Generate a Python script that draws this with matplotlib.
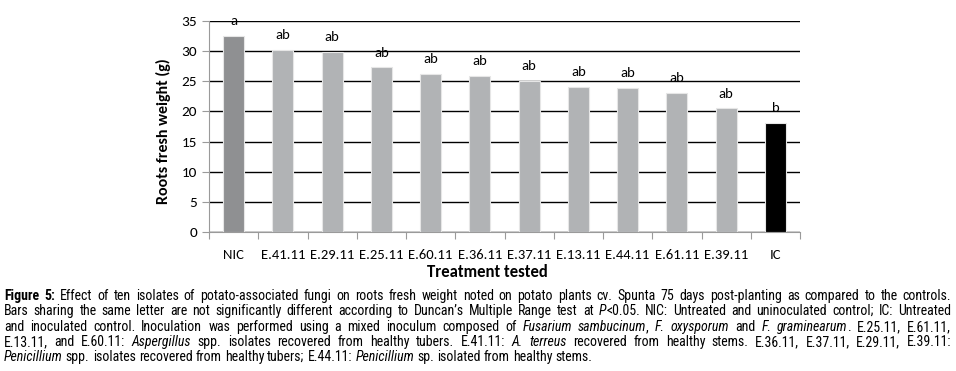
import matplotlib
matplotlib.use("Agg")
import matplotlib.pyplot as plt
from matplotlib import font_manager

treatments = ["NIC", "E.41.11", "E.29.11", "E.25.11", "E.60.11", "E.36.11",
              "E.37.11", "E.13.11", "E.44.11", "E.61.11", "E.39.11", "IC"]
weights = [32.5, 30.2, 29.9, 27.3, 26.2, 25.9, 25.1, 24.1, 23.9, 23.1, 20.5, 18.1]
letters = ["a", "ab", "ab", "ab", "ab", "ab", "ab", "ab", "ab", "ab", "ab", "b"]
colors = ["#8f9092"] + ["#b1b3b5"] * 10 + ["#000000"]

caption = [
    [("Figure 5:", "b"), (" Effect of ten isolates of potato-associated fungi on roots fresh weight noted on potato plants cv. Spunta 75 days post-planting as compared to the controls.", "n")],
    [("Bars sharing the same letter are not significantly different according to Duncan\u2019s Multiple Range test at ", "n"), ("P", "i"), ("<0.05. NIC: Untreated and uninoculated control; IC: Untreated", "n")],
    [("and inoculated control. Inoculation was performed using a mixed inoculum composed of ", "n"), ("Fusarium sambucinum", "i"), (", ", "n"), ("F. oxysporum", "i"), (" and ", "n"), ("F. graminearum", "i"), (". E.25.11, E.61.11,", "n")],
    [("E.13.11, and E.60.11: ", "n"), ("Aspergillus", "i"), (" spp. isolates recovered from healthy tubers. E.41.11: ", "n"), ("A. terreus", "i"), (" recovered from healthy stems. E.36.11, E.37.11, E.29.11, E.39.11:", "n")],
    [("Penicillium", "i"), (" spp. isolates recovered from healthy tubers; E.44.11: ", "n"), ("Penicillium", "i"), (" sp. isolated from healthy stems.", "n")],
]

names = {f.name for f in font_manager.fontManager.ttflist}


def first_font(cands, default):
    for c in cands:
        if c in names:
            return c
    return default


chart_font = first_font(["Carlito", "Open Sans"], "DejaVu Sans")
cap_font = first_font(["Liberation Sans Narrow", "Arial Narrow", "Roboto Condensed",
                       "Archivo Narrow"], "Liberation Sans")
small = chart_font == "Open Sans"

W, H = 956, 371
fig = plt.figure(figsize=(W / 100, H / 100), dpi=100)
ax = fig.add_axes([209 / W, 1 - 232 / H, (800 - 209) / W, (232 - 21) / H])

x = list(range(len(treatments)))
ax.bar(x, weights, width=0.43, color=colors, edgecolor="#e6e6e6", linewidth=0.8, zorder=3)
for xi, v, l in zip(x, weights, letters):
    ax.annotate(l, (xi, v), xytext=(0, 10.5), textcoords="offset points",
                ha="center", va="center", fontsize=9 if small else 10.5, family=chart_font)

ax.set_xlim(-0.5, len(treatments) - 0.5)
ax.set_ylim(0, 35)
ax.set_yticks(range(0, 36, 5))
ax.yaxis.grid(True, color="black", linewidth=1, zorder=0)
ax.set_axisbelow(True)
for s in ["top", "right"]:
    ax.spines[s].set_visible(False)
for s in ["left", "bottom"]:
    ax.spines[s].set_color("#9a9a9a")
ax.set_xticks([i - 0.5 for i in range(len(treatments) + 1)])
ax.set_xticklabels([])
ax.set_xticks(x, minor=True)
ax.set_xticklabels(treatments, minor=True, fontsize=9 if small else 10.5, family=chart_font)
ax.tick_params(axis="x", which="major", length=5, color="#9a9a9a")
ax.tick_params(axis="x", which="minor", length=0, pad=12)
ax.tick_params(axis="y", length=5, color="#9a9a9a", labelsize=10 if small else 11)
for t in ax.get_yticklabels():
    t.set_family(chart_font)

fig.text(487 / W, 1 - 272 / H, "Treatment tested", ha="center", va="center",
         fontsize=10.5 if small else 12, fontweight="bold", family=chart_font)
fig.text(163 / W, 1 - 131 / H, "Roots fresh weight (g)", ha="center", va="center",
         rotation=90, fontsize=10 if small else 11.5, fontweight="bold", family=chart_font)

# caption, justified word by word
renderer = fig.canvas.get_renderer()
left, right = 4, 951
line_y = [300, 315, 331, 346, 361]


def style_kw(st):
    return dict(fontweight="bold" if st == "b" else "normal",
                fontstyle="italic" if st == "i" else "normal")


def width_of(txt, st, size):
    t = fig.text(0, 0, txt, fontsize=size, family=cap_font, **style_kw(st))
    w = t.get_window_extent(renderer).width
    t.remove()
    return w


def advance_of(txt, st, size):
    # italic boxes include the slant overhang; measure the advance instead
    if st == "i":
        return width_of(txt + "l", st, size) - width_of("l", st, size)
    return width_of(txt, st, size)


# largest size (up to 10 pt) at which every full line fits
cap_size = 10
for runs in caption[:-1]:
    nat = sum(width_of(txt, st, 10) for txt, st in runs)
    cap_size = min(cap_size, 10 * (right - left) / nat * 0.99)

space = width_of("a a", "n", cap_size) - 2 * width_of("a", "n", cap_size)

for li, runs in enumerate(caption):
    words = []
    cur = []
    for txt, st in runs:
        parts = txt.split(" ")
        for pi, p in enumerate(parts):
            if pi > 0:
                if cur:
                    words.append(cur)
                cur = []
            if p:
                cur.append((p, st))
    if cur:
        words.append(cur)
    widths = [[advance_of(p, st, cap_size) for p, st in w] for w in words]
    total = sum(sum(ws) for ws in widths)
    if li < len(caption) - 1 and len(words) > 1:
        gap = (right - left - total) / (len(words) - 1)
    else:
        gap = space
    xp = left
    for w, ws in zip(words, widths):
        for (p, st), pw in zip(w, ws):
            fig.text(xp / W, 1 - line_y[li] / H, p, ha="left", va="baseline",
                     fontsize=cap_size, family=cap_font, **style_kw(st))
            xp += pw
        xp += gap

fig.savefig("out.png", dpi=100)
